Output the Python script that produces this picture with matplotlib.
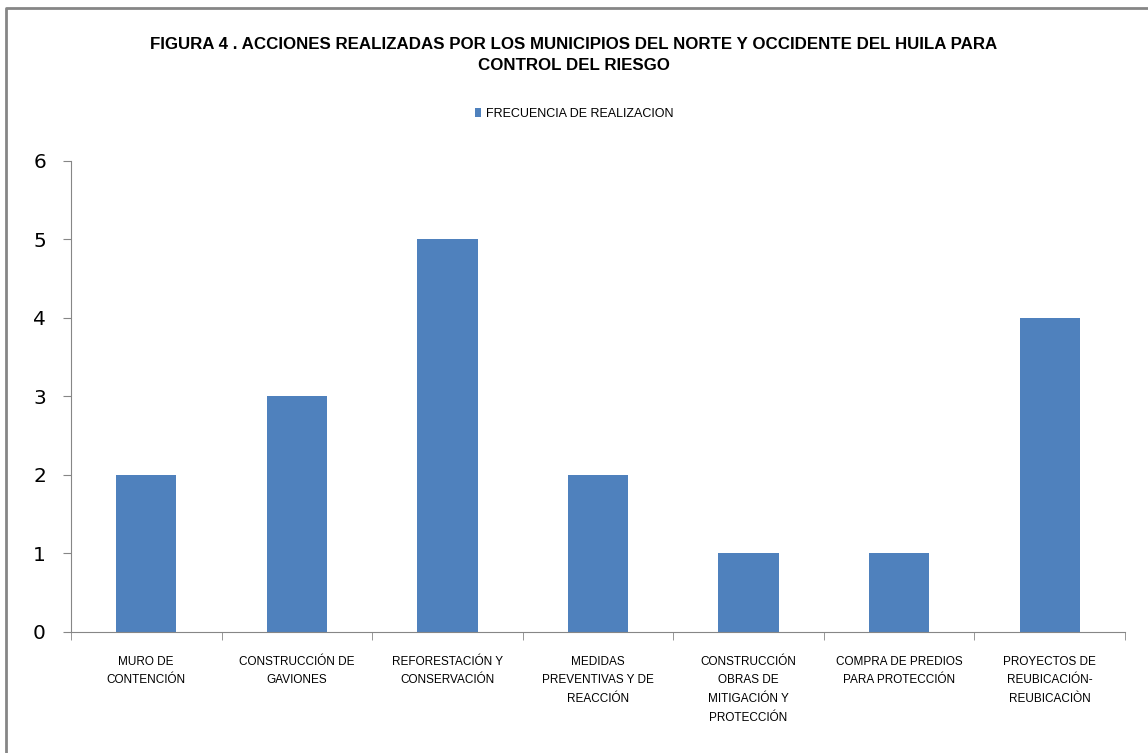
import numpy as np
import matplotlib.pyplot as plt
from matplotlib.lines import Line2D

categorias = ['MURO DE\nCONTENCIÓN', 'CONSTRUCCIÓN DE\nGAVIONES', 'REFORESTACIÓN Y\nCONSERVACIÓN',
              'MEDIDAS\nPREVENTIVAS Y DE\nREACCIÓN', 'CONSTRUCCIÓN\nOBRAS DE\nMITIGACIÓN Y\nPROTECCIÓN',
              'COMPRA DE PREDIOS\nPARA PROTECCIÓN', 'PROYECTOS DE\nREUBICACIÓN-\nREUBICACIÒN']
frecuencia = [2, 3, 5, 2, 1, 1, 4]

plt.rcParams['font.family'] = ['Liberation Sans Narrow', 'Liberation Sans', 'DejaVu Sans']

fig = plt.figure(figsize=(11.48, 7.53), dpi=100)
ax = fig.add_axes([0.0618, 0.1607, 0.9182, 0.6255])

x = np.arange(len(categorias))
ax.bar(x, frecuencia, width=0.4, color='#4F81BD', label='FRECUENCIA DE REALIZACION', zorder=2)

ax.set_xlim(-0.5, len(categorias) - 0.5)
ax.set_ylim(0, 6)
ax.set_yticks(range(0, 7))
ax.tick_params(axis='y', labelsize=14.5, length=6, color='#868686', pad=12,
               labelfontfamily='DejaVu Sans')
ax.set_xticks(x)
ax.set_xticklabels(categorias, fontsize=8.5, linespacing=1.75, va='top')
ax.tick_params(axis='x', length=0, pad=17)
ax.set_xticks(np.arange(len(categorias) + 1) - 0.5, minor=True)
ax.tick_params(axis='x', which='minor', length=6, color='#868686')

for s in ['top', 'right']:
    ax.spines[s].set_visible(False)
for s in ['left', 'bottom']:
    ax.spines[s].set_color('#868686')

fig.text(0.5, 0.927, 'FIGURA 4 . ACCIONES REALIZADAS POR LOS MUNICIPIOS DEL NORTE Y OCCIDENTE DEL HUILA PARA\nCONTROL DEL RIESGO',
         ha='center', va='center', fontsize=12.2, fontweight='bold', linespacing=1.5)

ax.legend(loc='center', bbox_to_anchor=(0.5, 0.849), bbox_transform=fig.transFigure,
          frameon=False, fontsize=9, handlelength=0.5, handleheight=0.7, handletextpad=0.4)

# borde del grafico (solo izquierda y arriba visibles)
fig.add_artist(Line2D([0.0055, 0.0055, 1.0], [0.0, 0.9894, 0.9894], transform=fig.transFigure,
                      color='#868686', linewidth=2))

fig.savefig('out.png', dpi=100)
